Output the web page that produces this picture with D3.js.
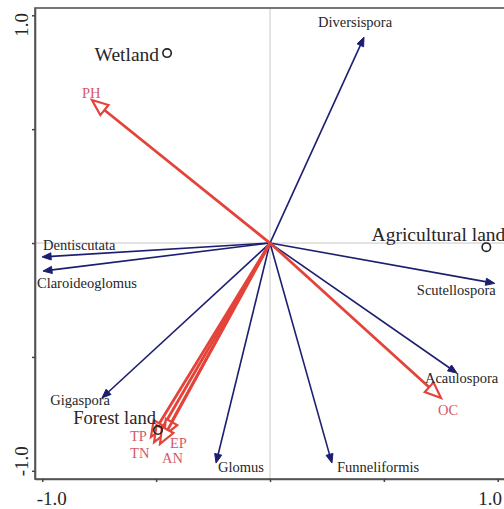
<!DOCTYPE html>
<html><head><meta charset="utf-8">
<script src="https://cdn.jsdelivr.net/npm/d3@7/dist/d3.min.js"></script>
<style>
html,body{margin:0;padding:0;background:#fff;}
svg{display:block;font-family:"Liberation Serif","Times New Roman",serif;}
</style></head>
<body>
<svg id="c" width="504" height="509"></svg>
<script>
// ---- data ----
const speciesNames = ["Diversispora","Dentiscutata","Claroideoglomus","Scutellospora","Acaulospora","Funneliformis","Glomus","Gigaspora"];
const speciesX = [0.413,-1.001,-0.997,0.987,0.821,0.272,-0.237,-0.738];
const speciesY = [0.904,-0.061,-0.123,-0.177,-0.571,-0.966,-0.966,-0.680];

const envNames = ["PH","OC","TP","TN","EP","AN"];
const envX = [-0.782,0.751,-0.523,-0.509,-0.466,-0.483];
const envY = [0.628,-0.680,-0.852,-0.874,-0.847,-0.882];

const siteNames = ["Wetland","Agricultural land","Forest land"];
const siteX = [-0.452,0.950,-0.492];
const siteY = [0.834,-0.018,-0.821];

const tickValues = [-1,-0.5,0,0.5,1];
const tickLabels = {"-1":"-1.0","1":"1.0"};

// ---- label styling (offsets in px) ----
const speciesLabelStyle = {
  "Diversispora":[ -9,-10,"middle"],
  "Dentiscutata":[ 1,-7,"start"],
  "Claroideoglomus":[-6,17,"start"],
  "Scutellospora":[ 1,12,"end"],
  "Acaulospora":[-32,10,"start"],
  "Funneliformis":[5,9,"start"],
  "Glomus":[2,9,"start"],
  "Gigaspora":[8,7,"end"]
};
const envLabelStyle = {
  "PH":[-10,-2,"start"],
  "OC":[-3,17,"start"],
  "TP":[-21,4,"start"],
  "TN":[-24,16,"start"],
  "EP":[6,12,"start"],
  "AN":[2,19,"start"]
};
const siteLabelStyle = {
  "Wetland":[-8,8,"end"],
  "Agricultural land":[19,-6,"end"],
  "Forest land":[-2,-6,"end"]
};

const svg = d3.select("#c");
const x = d3.scaleLinear().domain([-1.032,1.032]).range([35,505]);
const y = d3.scaleLinear().domain([-1.036,1.032]).range([479,8]);

const BLUE = "#1c1f70", RED = "#e4433a", RED_TXT = "#d45a66", TXT = "#262626";

// zero lines
svg.append("line").attr("x1",x(0)).attr("x2",x(0)).attr("y1",y.range()[1]).attr("y2",y.range()[0])
  .attr("stroke","#c8c8c8").attr("stroke-width",1);
svg.append("line").attr("x1",x.range()[0]).attr("x2",x.range()[1]).attr("y1",y(0)).attr("y2",y(0))
  .attr("stroke","#c8c8c8").attr("stroke-width",1);

// frame
svg.append("rect").attr("x",x.range()[0]).attr("y",y.range()[1])
  .attr("width",x.range()[1]-x.range()[0]).attr("height",y.range()[0]-y.range()[1])
  .attr("fill","none").attr("stroke","#555").attr("stroke-width",1.6);

// axes
const fmt = d => tickLabels[String(d)] || "";
const gx = svg.append("g").attr("transform",`translate(0,${y.range()[0]})`)
  .call(d3.axisBottom(x).tickValues(tickValues).tickFormat(fmt).tickSize(3).tickSizeOuter(0));
gx.select(".domain").attr("stroke","#555").attr("stroke-width",1.6);
gx.selectAll(".tick line").attr("stroke","#444").attr("stroke-width",1.5);
gx.selectAll(".tick text").attr("font-size",19).attr("fill",TXT).attr("font-family","Liberation Serif")
  .attr("y",13).attr("dy","0.71em")
  .attr("dx",d=> d<0 ? 9 : -8);

const gy = svg.append("g").attr("transform",`translate(${x.range()[0]},0)`)
  .call(d3.axisLeft(y).tickValues(tickValues).tickFormat(fmt).tickSize(3).tickSizeOuter(0));
gy.select(".domain").attr("stroke","#555").attr("stroke-width",1.6);
gy.selectAll(".tick line").attr("stroke","#444").attr("stroke-width",1.5);
gy.selectAll(".tick text").attr("font-size",19).attr("fill",TXT).attr("font-family","Liberation Serif")
  .attr("x",0).attr("dy",0)
  .attr("text-anchor","middle")
  .attr("transform",d=>`translate(-7,${d>0?9:-10}) rotate(-90)`);

const ox = x(0), oy = y(0);

function arrow(g, tx, ty, color, width, headLen, headHalf, hollow){
  const ang = Math.atan2(ty-oy, tx-ox);
  const bx = tx - Math.cos(ang)*headLen, by = ty - Math.sin(ang)*headLen;
  const px = -Math.sin(ang), py = Math.cos(ang);
  g.append("line").attr("x1",ox).attr("y1",oy).attr("x2",hollow?bx:(tx-Math.cos(ang)*headLen*0.6)).attr("y2",hollow?by:(ty-Math.sin(ang)*headLen*0.6))
    .attr("stroke",color).attr("stroke-width",width);
  const pts = [[tx,ty],[bx+px*headHalf,by+py*headHalf],[bx-px*headHalf,by-py*headHalf]];
  g.append("polygon").attr("points",pts.map(p=>p.join(",")).join(" "))
    .attr("fill",hollow?"#fff":color).attr("stroke",color).attr("stroke-width",hollow?2.2:1)
    .attr("stroke-linejoin","miter");
}

// species arrows
const gs = svg.append("g");
speciesNames.forEach((n,i)=>{
  arrow(gs, x(speciesX[i]), y(speciesY[i]), BLUE, 1.6, 9, 3.6, false);
});

// env arrows
const ge = svg.append("g");
envNames.forEach((n,i)=>{
  arrow(ge, x(envX[i]), y(envY[i]), RED, 2.8, 16, 6.5, true);
});

// site points
const gp = svg.append("g");
siteNames.forEach((n,i)=>{
  gp.append("circle").attr("cx",x(siteX[i])).attr("cy",y(siteY[i])).attr("r",4.2)
    .attr("fill","none").attr("stroke","#222").attr("stroke-width",1.6);
  const s = siteLabelStyle[n];
  gp.append("text").attr("x",x(siteX[i])+s[0]).attr("y",y(siteY[i])+s[1])
    .attr("text-anchor",s[2]).attr("font-size",n==="Forest land"?18.5:19.5).attr("fill",TXT).text(n);
});

// species labels
speciesNames.forEach((n,i)=>{
  const s = speciesLabelStyle[n];
  svg.append("text").attr("x",x(speciesX[i])+s[0]).attr("y",y(speciesY[i])+s[1])
    .attr("text-anchor",s[2]).attr("font-size",14.5).attr("fill",TXT).text(n);
});

// env labels
envNames.forEach((n,i)=>{
  const s = envLabelStyle[n];
  svg.append("text").attr("x",x(envX[i])+s[0]).attr("y",y(envY[i])+s[1])
    .attr("text-anchor",s[2]).attr("font-size",14.5).attr("fill",RED_TXT).text(n);
});
</script>
</body></html>
